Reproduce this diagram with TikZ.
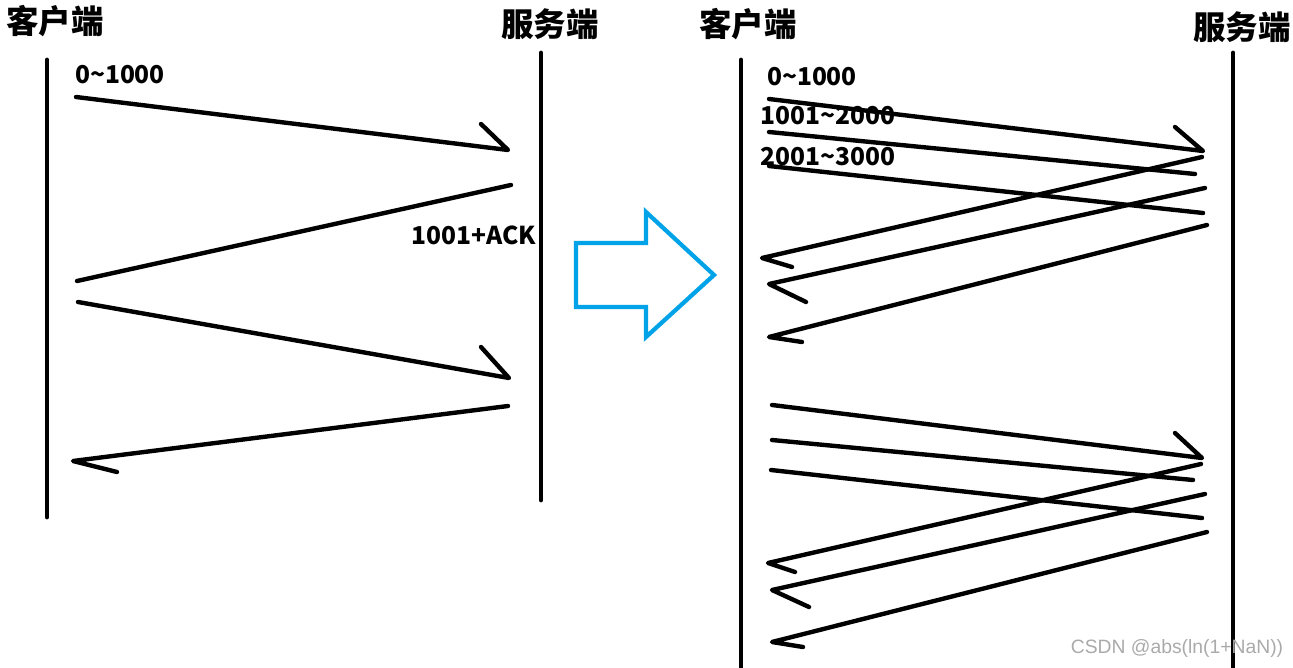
\documentclass[tikz,border=0pt]{standalone}
\usepackage{fontspec}
\newfontfamily\cjk{Noto Sans CJK SC}
\definecolor{arrowblue}{RGB}{0,162,232}
\definecolor{markgray}{RGB}{170,170,170}
\usetikzlibrary{positioning}
\newcommand{\tld}{{\char"7E\relax}}

\begin{document}
\begin{tikzpicture}[x=0.02cm,y=-0.02cm,
  lifeline/.style={line width=2.8pt,line cap=round},
  msg/.style={line width=2.5pt,line cap=round,line join=round},
  title/.style={font=\cjk\bfseries\fontsize{18.5}{20}\selectfont,inner sep=0pt},
  seglabel/.style={font=\cjk\bfseries\fontsize{14}{16}\selectfont,inner sep=0pt}]
\useasboundingbox (0,0) rectangle (1293,668);

% left: one segment at a time
\node[title] (cliA) at (55,21) {客户端};
\node[title] (srvA) at (550,24) {服务端};
\coordinate (cliAtop) at (47,60);
\coordinate (cliAbot) at (47,517);
\coordinate (srvAtop) at (541,53);
\coordinate (srvAbot) at (541,500);
\draw[lifeline] (cliAtop) -- (cliAbot);
\draw[lifeline] (srvAtop) -- (srvAbot);

\node[seglabel] (segA) at (120,75) {0\tld 1000};
\node[seglabel] (ackA) at (474,235) {1001+ACK};

\coordinate (s1) at (76,97);   \coordinate (e1) at (508,150); \coordinate (b1) at (481,124);
\coordinate (s2) at (511,185); \coordinate (e2) at (77,281);
\coordinate (s3) at (78,302);  \coordinate (e3) at (509,378); \coordinate (b3) at (481,347);
\coordinate (s4) at (508,406); \coordinate (e4) at (73,461);  \coordinate (b4) at (117,472);
\draw[msg] (s1) -- (e1) -- (b1);
\draw[msg] (s2) -- (e2);
\draw[msg] (s3) -- (e3) -- (b3);
\draw[msg] (s4) -- (e4) -- (b4);

% big hollow arrow in the middle
\draw[arrowblue,line width=2.4pt,line join=miter]
  (576,243) -- (646,243) -- (646,212) -- (714,275) -- (646,337) -- (646,307) -- (576,307) -- cycle;

% right: three segments in a row
\node[title] (cliB) at (748,24) {客户端};
\node[title] (srvB) at (1242,27) {服务端};
\coordinate (cliBtop) at (741,60);
\coordinate (cliBbot) at (741,670);
\coordinate (srvBtop) at (1233,53);
\coordinate (srvBbot) at (1233,670);
\draw[lifeline] (cliBtop) -- (cliBbot);
\draw[lifeline] (srvBtop) -- (srvBbot);

\node[seglabel] (segB1) at (812,77) {0\tld 1000};
\node[seglabel] (segB2) at (828,116) {1001\tld 2000};
\node[seglabel] (segB3) at (828,157) {2001\tld 3000};

\coordinate (t1s) at (769,99);   \coordinate (t1e) at (1203,151); \coordinate (t1b) at (1175,127);
\coordinate (t2s) at (769,132);  \coordinate (t2e) at (1195,174);
\coordinate (t3s) at (769,166);  \coordinate (t3e) at (1203,213);
\coordinate (r1s) at (1202,157); \coordinate (r1e) at (762,258); \coordinate (r1b) at (792,267);
\coordinate (r2s) at (1205,188); \coordinate (r2e) at (769,284); \coordinate (r2b) at (806,302);
\coordinate (r3s) at (1207,225); \coordinate (r3e) at (769,337); \coordinate (r3b) at (802,342);
\draw[msg] (t1s) -- (t1e) -- (t1b);
\draw[msg] (t2s) -- (t2e);
\draw[msg] (t3s) -- (t3e);
\draw[msg] (r1s) -- (r1e) -- (r1b);
\draw[msg] (r2s) -- (r2e) -- (r2b);
\draw[msg] (r3s) -- (r3e) -- (r3b);

\coordinate (u1s) at (772,405);  \coordinate (u1e) at (1202,458); \coordinate (u1b) at (1175,433);
\coordinate (u2s) at (772,440);  \coordinate (u2e) at (1193,480);
\coordinate (u3s) at (771,470);  \coordinate (u3e) at (1202,518);
\coordinate (q1s) at (1201,464); \coordinate (q1e) at (768,563); \coordinate (q1b) at (795,572);
\coordinate (q2s) at (1205,494); \coordinate (q2e) at (772,590); \coordinate (q2b) at (809,607);
\coordinate (q3s) at (1207,532); \coordinate (q3e) at (772,642); \coordinate (q3b) at (803,647);
\draw[msg] (u1s) -- (u1e) -- (u1b);
\draw[msg] (u2s) -- (u2e);
\draw[msg] (u3s) -- (u3e);
\draw[msg] (q1s) -- (q1e) -- (q1b);
\draw[msg] (q2s) -- (q2e) -- (q2b);
\draw[msg] (q3s) -- (q3e) -- (q3b);

\node[font=\fontspec{Liberation Sans}\fontsize{11}{12}\selectfont,markgray,inner sep=0pt] (mark) at (1177,648) {CSDN @abs(ln(1+NaN))};
\end{tikzpicture}
\end{document}
